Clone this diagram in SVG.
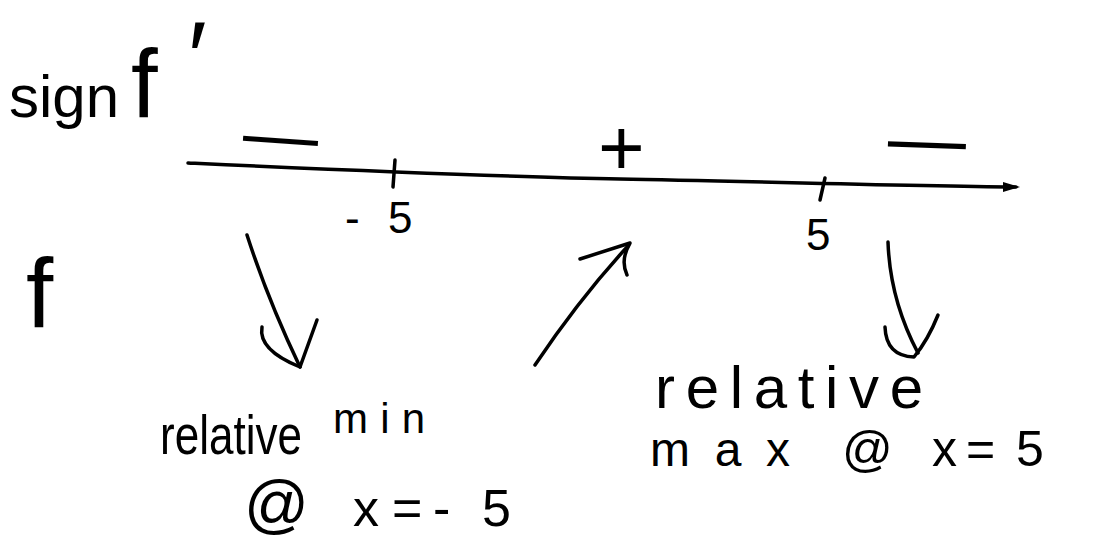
<svg xmlns="http://www.w3.org/2000/svg" width="1109" height="544" viewBox="0 0 1109 544">
<style>
.s{fill:none;stroke:#000;stroke-width:3.5;stroke-linecap:round;stroke-linejoin:round}
.t{font-family:"Liberation Sans",Arial,sans-serif;fill:#000}
</style>
<rect width="1109" height="544" fill="#fff"/>
<g id="label-signf">
<text class="t" y="117"><tspan x="9" font-size="60">sign</tspan><tspan x="131" font-size="96">f</tspan><tspan x="188" y="92" font-size="100">′</tspan></text>
</g>
<g id="axis">
<path class="s" d="M188 163 C300 168 500 177 620 179 S900 186 1016 187"/>
<path d="M1003 182 L1020 187 L1003 192 Z" fill="#000"/>
<path class="s" d="M395 160 L393 187"/>
<path class="s" d="M825 178 L820 200"/>
</g>
<g id="signs">
<text class="t" x="243" y="160" font-size="75" transform="rotate(4 280 140)">—</text>
<text class="t" x="598" y="175" font-size="80">+</text>
<text class="t" x="888" y="165" font-size="78" transform="rotate(2 926 145)">—</text>
</g>
<g id="ticks-labels">
<text class="t" y="233" font-size="44"><tspan x="345">-</tspan><tspan x="388">5</tspan></text>
<text class="t" x="806" y="250" font-size="44">5</text>
</g>
<g id="label-f">
<text class="t" x="26" y="327" font-size="98">f</text>
</g>
<g id="connectors">
<path class="s" d="M247 235 Q268 300 300 367"/>
<path class="s" d="M262 327 Q258 350 300 367 L317 320"/>
<path class="s" d="M535 365 Q580 298 628 246"/>
<path class="s" d="M580 259 L630 243 Q620 260 627 275"/>
<path class="s" d="M888 242 Q890 300 918 353"/>
<path class="s" d="M885 327 Q886 356 914 357 Q928 340 938 315"/>
</g>
<g id="note-min">
<text class="t" x="160" y="454" font-size="56" textLength="142" lengthAdjust="spacingAndGlyphs">relative</text>
<text class="t" x="333" y="433" font-size="42" textLength="92" lengthAdjust="spacing">min</text>
<text class="t" y="526" font-size="52"><tspan x="244" font-size="64">@</tspan><tspan x="353">x</tspan><tspan x="392">=</tspan><tspan x="433">-</tspan><tspan x="482">5</tspan></text>
</g>
<g id="note-max">
<text class="t" x="655" y="408" font-size="60" textLength="268" lengthAdjust="spacing">relative</text>
<text class="t" x="650" y="466" font-size="48" textLength="140" lengthAdjust="spacing">max</text>
<text class="t" y="466" font-size="50"><tspan x="842">@</tspan><tspan x="932">x</tspan><tspan x="966">=</tspan><tspan x="1016">5</tspan></text>
</g>
</svg>
